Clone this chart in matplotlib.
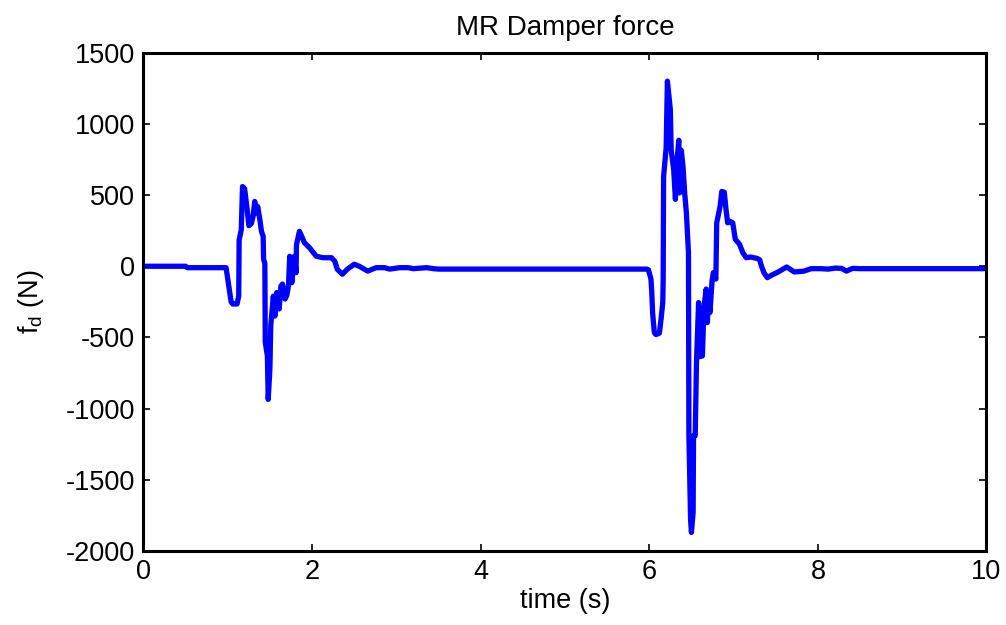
import matplotlib
matplotlib.use("Agg")
import matplotlib.pyplot as plt

# (time s, force N): quiet part + first bump
burst1 = [(0.00, 0), (0.50, 0), (0.52, -10), (0.98, -10), (1.00, -90), (1.04, -250),
          (1.06, -265), (1.11, -265), (1.13, -210), (1.135, 185), (1.16, 255), (1.175, 560),
          (1.20, 545), (1.23, 400), (1.25, 285), (1.28, 300), (1.30, 350), (1.32, 455),
          (1.335, 375), (1.355, 420), (1.38, 330), (1.40, 245), (1.42, 210), (1.425, 50),
          (1.44, 20), (1.445, -535), (1.47, -630), (1.48, -935), (1.50, -720), (1.51, -420),
          (1.54, -210), (1.56, -350), (1.58, -185), (1.61, -300), (1.63, -140), (1.65, -125),
          (1.68, -230), (1.70, -205), (1.72, -140), (1.735, 70), (1.76, -115), (1.79, 70),
          (1.81, -45), (1.815, 150), (1.85, 245), (1.87, 220), (1.91, 165), (1.97, 130),
          (2.05, 70), (2.13, 60), (2.23, 60), (2.27, 35), (2.30, -22), (2.36, -56),
          (2.42, -20), (2.50, 14), (2.56, 0), (2.66, -34), (2.76, -10), (2.86, -10),
          (2.92, -20), (3.04, -10), (3.14, -10), (3.20, -17), (3.36, -10), (3.44, -17),
          (3.50, -20)]

# second bump and tail
burst2 = [(5.97, -20), (5.99, -25), (6.02, -90), (6.03, -185), (6.04, -330), (6.06, -465),
          (6.08, -480), (6.12, -470), (6.14, -370), (6.16, -255), (6.165, -90), (6.17, 630),
          (6.20, 830), (6.215, 1300), (6.25, 1100), (6.26, 815), (6.29, 675), (6.31, 470),
          (6.33, 745), (6.35, 885), (6.36, 515), (6.38, 815), (6.40, 700), (6.42, 515),
          (6.44, 375), (6.465, 95), (6.47, -1190), (6.49, -1780), (6.50, -1870), (6.52, -1730),
          (6.525, -1190), (6.545, -1190), (6.56, -675), (6.585, -255), (6.60, -635),
          (6.61, -370), (6.63, -630), (6.65, -280), (6.675, -160), (6.69, -395), (6.70, -200),
          (6.72, -325), (6.745, -100), (6.76, -45), (6.79, -90), (6.80, 305), (6.84, 420),
          (6.86, 525), (6.89, 520), (6.91, 400), (6.93, 305), (6.96, 315), (6.99, 305),
          (7.02, 190), (7.07, 155), (7.11, 95), (7.15, 60), (7.20, 65), (7.28, 55),
          (7.31, 45), (7.33, 2), (7.36, -45), (7.40, -80), (7.46, -60), (7.53, -40),
          (7.63, -5), (7.72, -40), (7.83, -35), (7.92, -17), (8.03, -17), (8.12, -20),
          (8.21, -13), (8.28, -15), (8.34, -34), (8.41, -15), (8.50, -17), (10.00, -17)]

time_s = [p[0] for p in burst1 + burst2]
force_N = [p[1] for p in burst1 + burst2]

title_text = "MR Damper force"
x_label = "time (s)"
y_label = "f$_\\mathrm{d}$ (N)"
x_ticks = [0, 2, 4, 6, 8, 10]
y_ticks = [-2000, -1500, -1000, -500, 0, 500, 1000, 1500]

plt.rcParams['font.family'] = ['Liberation Sans', 'DejaVu Sans']
plt.rcParams['mathtext.fontset'] = 'custom'
plt.rcParams['mathtext.rm'] = 'Liberation Sans'

fig = plt.figure(figsize=(10.06, 6.25), dpi=100)
ax = fig.add_axes([0.1426, 0.1184, 0.838, 0.7973])
ax.plot(time_s, force_N, color=(0, 0, 1), linewidth=3.8, solid_joinstyle='round',
        solid_capstyle='round')

ax.set_xlim(0, 10)
ax.set_ylim(-2000, 1500)
ax.set_xticks(x_ticks)
ax.set_yticks(y_ticks)
ax.set_xticklabels([str(v) for v in x_ticks])
ax.set_yticklabels([str(v) for v in y_ticks])
ax.tick_params(direction='in', length=5, width=1.2, labelsize=19.5, pad=6,
               top=True, right=True, colors='black')
for s in ax.spines.values():
    s.set_linewidth(2.2)
    s.set_color('black')

ax.set_title(title_text, fontsize=20, pad=13)
ax.set_xlabel(x_label, fontsize=19.5, labelpad=2)
ax.set_ylabel(y_label, fontsize=19.5, labelpad=14)

fig.savefig("out.png", dpi=100)
